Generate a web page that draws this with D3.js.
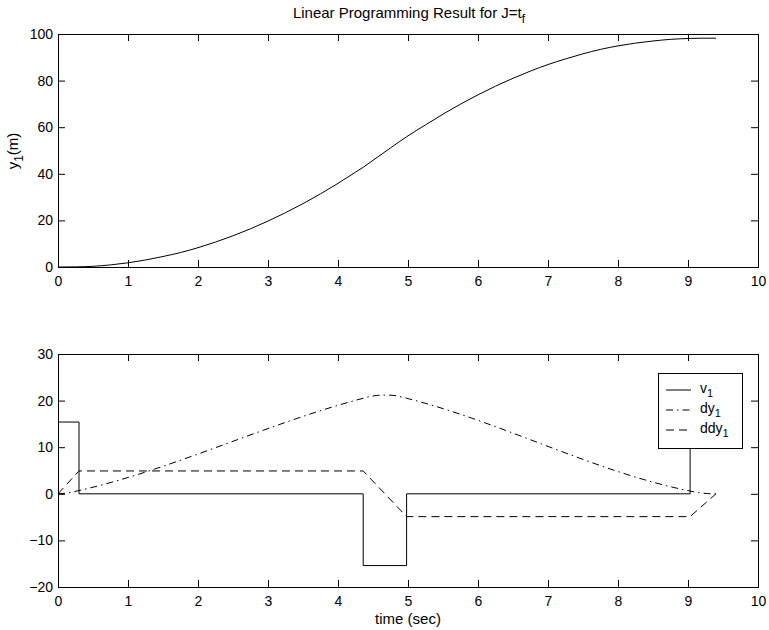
<!DOCTYPE html>
<html>
<head>
<meta charset="utf-8">
<script src="https://cdn.jsdelivr.net/npm/d3@7"></script>
<style>
  body { margin: 0; background: #fff; }
  text { font-family: "Liberation Sans", Arial, sans-serif; }
</style>
</head>
<body>
<div id="chart"></div>
<script>
// position y1 (m)
var posTime = [0, 0.25, 0.5, 0.75, 1.0, 1.25, 1.5, 1.75, 2.0, 2.25, 2.5, 2.75, 3.0, 3.25, 3.5, 3.75,
    4.0, 4.25, 4.36, 4.5, 4.75, 4.98, 5.25, 5.5, 5.75, 6.0, 6.25, 6.5, 6.75, 7.0, 7.25, 7.5, 7.75,
    8.0, 8.25, 8.5, 8.75, 9.03, 9.2, 9.4];
var posY1 = [0, 0.05, 0.3, 0.9, 1.8, 3.0, 4.5, 6.2, 8.3, 10.7, 13.4, 16.4, 19.7, 23.3, 27.2, 31.4,
    35.9, 40.7, 42.8, 45.8, 51.1, 55.9, 61.0, 65.6, 69.9, 73.9, 77.6, 81.0, 84.1, 86.9, 89.3, 91.5, 93.4,
    94.9, 96.1, 97.0, 97.7, 98.1, 98.2, 98.2];

// lower plot series
var v1Time = [0, 0.3, 0.3, 4.36, 4.36, 4.98, 4.98, 9.03, 9.03, 9.4];
var v1 = [15.4, 15.4, 0, 0, -15.4, -15.4, 0, 0, 13.5, 13.5];

var dyTime = [0, 0.15, 0.3, 4.36, 4.45, 4.55, 4.67, 4.8, 4.9, 4.98, 9.03, 9.15, 9.28, 9.4];
var dy1 = [0, 0.2, 0.7, 20.5, 20.85, 21.1, 21.2, 21.1, 20.8, 20.5, 0.6, 0.25, 0.05, 0];

var ddyTime = [0, 0.3, 4.36, 4.98, 9.03, 9.4];
var ddy1 = [0, 4.9, 4.9, -4.9, -4.9, 0];

var topTicks = [0, 20, 40, 60, 80, 100];
var bottomTicks = [-20, -10, 0, 10, 20, 30];
var timeTicks = [0, 1, 2, 3, 4, 5, 6, 7, 8, 9, 10];

var W = 769, H = 630;
var left = 58, right = 758;
var tickLen = 7;

var svg = d3.select("#chart").append("svg")
    .attr("width", W)
    .attr("height", H);

var x = d3.scaleLinear().domain([0, 10]).range([left, right]);

// draws the box, ticks and labels of one axes
function drawAxes(y, ticks, top, bottom) {
    var g = svg.append("g");
    g.append("g")
        .attr("transform", "translate(0," + bottom + ")")
        .call(d3.axisBottom(x).tickValues(timeTicks).tickSize(-tickLen).tickPadding(9).tickFormat(d3.format("d")));
    g.append("g")
        .attr("transform", "translate(0," + top + ")")
        .call(d3.axisTop(x).tickValues(timeTicks).tickSize(-tickLen).tickFormat(""));
    g.append("g")
        .attr("transform", "translate(" + left + ",0)")
        .call(d3.axisLeft(y).tickValues(ticks).tickSize(-tickLen).tickPadding(5)
            .tickFormat(function (d) { return d < 0 ? "\u2212" + Math.abs(d) : d; }));
    g.append("g")
        .attr("transform", "translate(" + right + ",0)")
        .call(d3.axisRight(y).tickValues(ticks).tickSize(-tickLen).tickFormat(""));
    g.selectAll(".domain").attr("stroke", "#000").attr("stroke-width", 1);
    g.selectAll(".tick line").attr("stroke", "#000");
    g.selectAll(".tick text").attr("font-size", 14).attr("fill", "#000")
        .style("font-family", "'Liberation Sans', Arial, sans-serif");
    return g;
}

// upper plot
var yTop = d3.scaleLinear().domain([0, 100]).range([267, 34]);
var line1 = d3.line()
    .curve(d3.curveMonotoneX)
    .x(function (d, i) { return x(posTime[i]); })
    .y(function (d) { return yTop(d); });
svg.append("path")
    .datum(posY1)
    .attr("d", line1)
    .attr("fill", "none")
    .attr("stroke", "#000")
    .attr("stroke-width", 1);
drawAxes(yTop, topTicks, 34, 267);

// title
var title = svg.append("text")
    .attr("x", 409)
    .attr("y", 18)
    .attr("text-anchor", "middle")
    .attr("font-size", 15);
title.append("tspan").text("Linear Programming Result for J=t");
title.append("tspan").attr("dy", 5).attr("font-size", 12).text("f");

// y label of upper plot
var ylab = svg.append("text")
    .attr("transform", "translate(18,151) rotate(-90)")
    .attr("text-anchor", "middle")
    .attr("font-size", 15);
ylab.append("tspan").text("y");
ylab.append("tspan").attr("dy", 5).attr("font-size", 12).text("1");
ylab.append("tspan").attr("dy", -5).text("(m)");

// lower plot
var yBot = d3.scaleLinear().domain([-20, 30]).range([587, 354]);

function seriesLine(times) {
    return d3.line()
        .x(function (d, i) { return x(times[i]); })
        .y(function (d) { return yBot(d); });
}

svg.append("path")
    .datum(v1)
    .attr("d", seriesLine(v1Time))
    .attr("fill", "none")
    .attr("stroke", "#000")
    .attr("stroke-width", 1);

svg.append("path")
    .datum(dy1)
    .attr("d", seriesLine(dyTime).curve(d3.curveMonotoneX))
    .attr("fill", "none")
    .attr("stroke", "#000")
    .attr("stroke-width", 1)
    .attr("stroke-dasharray", "7,4,1.5,4");

svg.append("path")
    .datum(ddy1)
    .attr("d", seriesLine(ddyTime))
    .attr("fill", "none")
    .attr("stroke", "#000")
    .attr("stroke-width", 1)
    .attr("stroke-dasharray", "8,5");

drawAxes(yBot, bottomTicks, 354, 587);

svg.append("text")
    .attr("x", 408)
    .attr("y", 624)
    .attr("text-anchor", "middle")
    .attr("font-size", 15)
    .text("time (sec)");

// legend
var legendNames = ["v", "dy", "ddy"];
var legendDash = [null, "7,4,1.5,4", "8,5"];
var legend = svg.append("g");
legend.append("rect")
    .attr("x", 658.5)
    .attr("y", 373.5)
    .attr("width", 84)
    .attr("height", 75)
    .attr("fill", "#fff")
    .attr("stroke", "#000")
    .attr("stroke-width", 1);
legendNames.forEach(function (name, i) {
    var ly = 390 + i * 20;
    legend.append("line")
        .attr("x1", 666).attr("x2", 691)
        .attr("y1", ly).attr("y2", ly)
        .attr("stroke", "#000")
        .attr("stroke-width", 1)
        .attr("stroke-dasharray", legendDash[i]);
    var t = legend.append("text")
        .attr("x", 700)
        .attr("y", ly + 3)
        .attr("font-size", 14);
    t.append("tspan").text(name);
    t.append("tspan").attr("dy", 4).attr("font-size", 11).text("1");
});
</script>
</body>
</html>
